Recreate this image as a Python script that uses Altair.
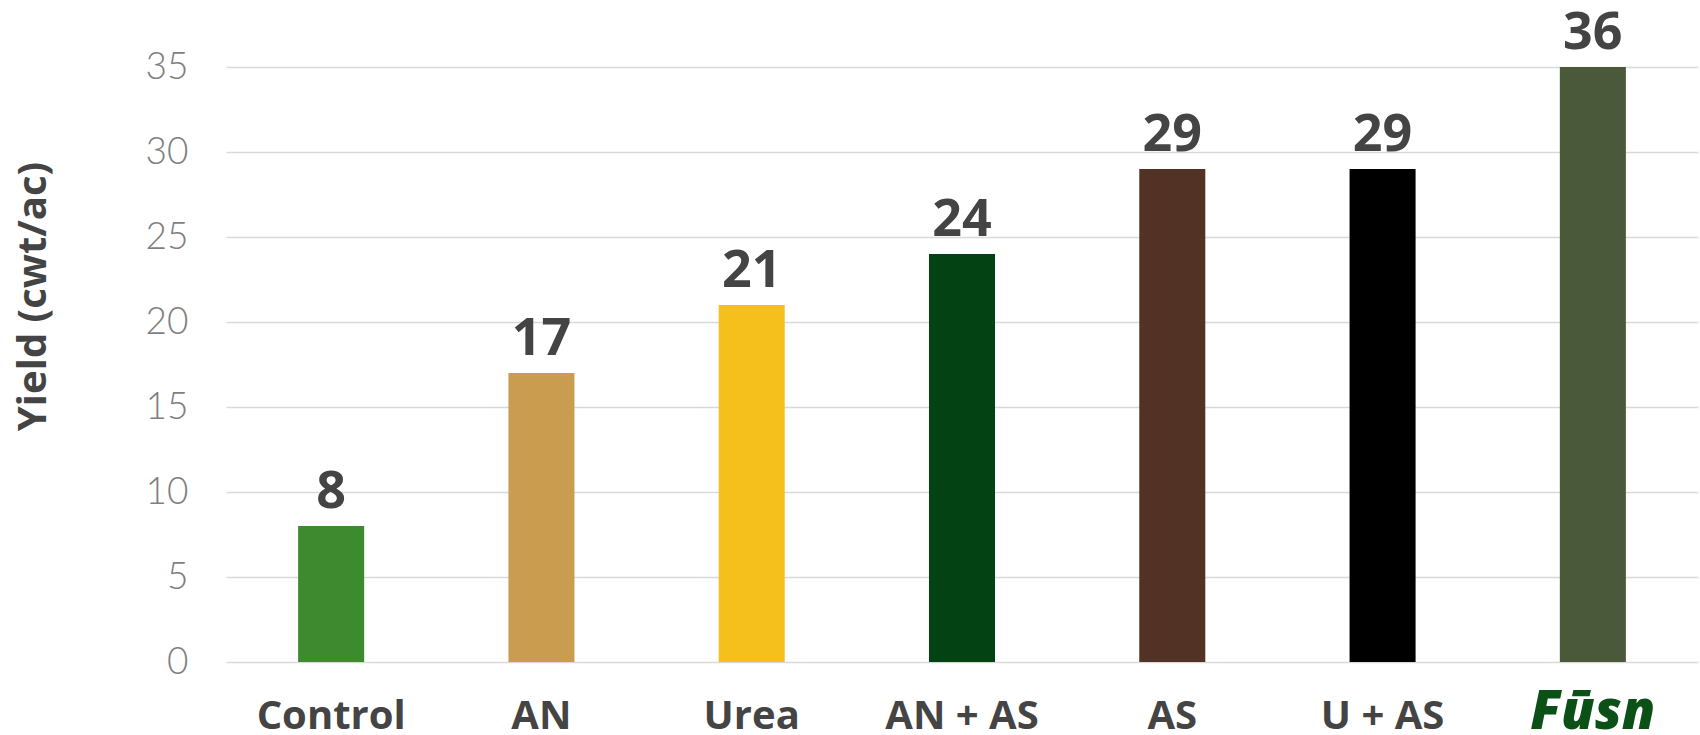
import altair as alt
import pandas as pd

# Yield by nitrogen source
treatments = ["Control", "AN", "Urea", "AN + AS", "AS", "U + AS", "Fūsn"]
yields = [8, 17, 21, 24, 29, 29, 36]
bar_colors = ["#3d8a2f", "#c99c4f", "#f6c01c", "#034313", "#523224", "#000000", "#4a5939"]
y_ticks = [0, 5, 10, 15, 20, 25, 30, 35]

df = pd.DataFrame({"treatment": treatments, "yield": yields})

label_grey = "#444444"
brand = "'Fūsn'"

x_enc = alt.X(
    "treatment:N",
    sort=treatments,
    title=None,
    scale=alt.Scale(paddingInner=0.686, paddingOuter=0.343),
    axis=alt.Axis(
        domain=False,
        ticks=False,
        grid=False,
        labelAngle=0,
        labelPadding=66,
        labelBaseline="alphabetic",
        labelFont="Open Sans",
        labelFontSize={"condition": {"test": f"datum.value == {brand}", "value": 54}, "value": 40},
        labelFontWeight={"condition": {"test": f"datum.value == {brand}", "value": 800}, "value": "bold"},
        labelFontStyle={"condition": {"test": f"datum.value == {brand}", "value": "italic"}, "value": "normal"},
        labelColor={"condition": {"test": f"datum.value == {brand}", "value": "#0b5016"}, "value": label_grey},
    ),
)

y_scale = alt.Scale(domain=[0, 35], clamp=True, nice=False, zero=True)

bars = alt.Chart(df).mark_bar().encode(
    x=x_enc,
    y=alt.Y(
        "yield:Q",
        scale=y_scale,
        axis=alt.Axis(
            values=y_ticks,
            title="Yield (cwt/ac)",
            titleFont="Open Sans",
            titleFontSize=40,
            titleFontWeight="bold",
            titleColor=label_grey,
            titleAngle=270,
            titleAlign="center",
            titleBaseline="middle",
            titleX=-193,
            titleY=229,
            domain=False,
            ticks=False,
            grid=True,
            gridColor="#d9d9d9",
            gridWidth=1.5,
            labelFont="Lato",
            labelFontWeight=300,
            labelFontSize=37,
            labelColor="#7f7f7f",
            labelPadding=38,
        ),
    ),
    color=alt.Color(
        "treatment:N",
        scale=alt.Scale(domain=treatments, range=bar_colors),
        legend=None,
    ),
)

values = alt.Chart(df).mark_text(
    baseline="alphabetic",
    dy=-18,
    font="Open Sans",
    fontSize=52,
    fontWeight="bold",
    color=label_grey,
).encode(
    x=alt.X("treatment:N", sort=treatments),
    y=alt.Y("yield:Q", scale=y_scale),
    text=alt.Text("yield:Q"),
)

chart = (
    alt.layer(bars, values)
    .properties(
        width=1472,
        height=595,
        background="white",
        autosize=alt.AutoSizeParams(type="none"),
        padding={"left": 226, "top": 67, "right": 2, "bottom": 73},
    )
    .configure_axis(domain=False, ticks=False)
    .configure_view(strokeWidth=0, stroke="transparent")
)

chart.save("out.html", embed_options={"renderer": "svg", "actions": False})
